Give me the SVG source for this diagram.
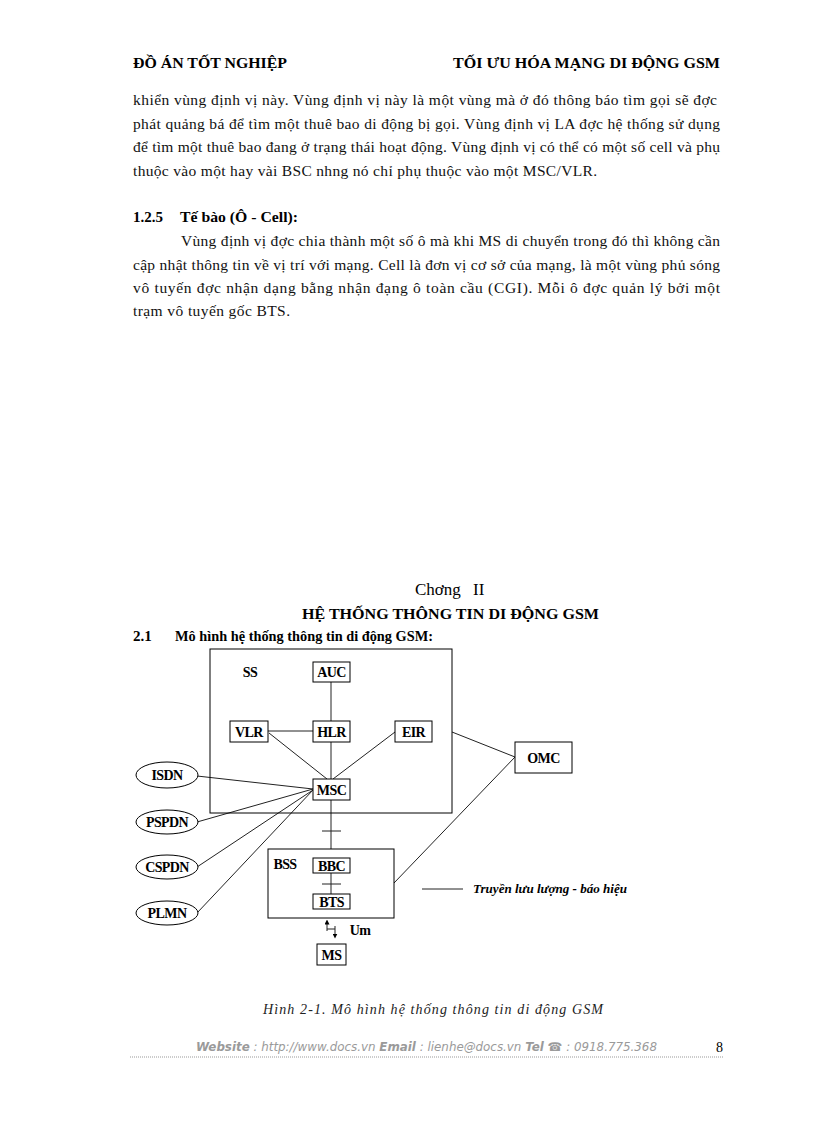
<svg xmlns="http://www.w3.org/2000/svg" width="816" height="1123" viewBox="0 0 816 1123">
<style>
.hd{font-family:"Liberation Serif",serif;font-size:15px;font-weight:bold;fill:#000}
.bd{font-family:"Liberation Serif",serif;font-size:15.5px;fill:#111}
.bb{font-family:"Liberation Serif",serif;font-size:15px;font-weight:bold;fill:#000}
.lb{font-family:"Liberation Serif",serif;font-size:14px;font-weight:bold;fill:#000;text-anchor:middle;letter-spacing:-0.6px}
.bx{fill:#fff;stroke:#000;stroke-width:1}
.ln{stroke:#222;stroke-width:1;fill:none}
.ft{font-family:"DejaVu Sans",sans-serif;font-size:12px;font-style:italic;fill:#9a9a9a}
</style>
<defs>
<marker id="ah" viewBox="0 0 6 6" refX="3" refY="3" markerWidth="5" markerHeight="5" orient="auto"><path d="M0,0 L6,3 L0,6 z" fill="#000"/></marker>
</defs>
<rect width="816" height="1123" fill="#fff"/>
<!-- header -->
<text class="hd" x="133" y="68" textLength="154" lengthAdjust="spacingAndGlyphs">ĐỒ ÁN TỐT NGHIỆP</text>
<text class="hd" x="453" y="68" textLength="267" lengthAdjust="spacingAndGlyphs">TỐI ƯU HÓA MẠNG DI ĐỘNG GSM</text>
<!-- paragraph 1 -->
<text class="bd" x="133" y="105" textLength="584" lengthAdjust="spacing">khiển vùng định vị này. Vùng định vị này là một vùng mà ở đó thông báo tìm gọi sẽ đợc</text>
<text class="bd" x="133" y="129" textLength="587" lengthAdjust="spacing">phát quảng bá để tìm một thuê bao di động bị gọi. Vùng định vị LA đợc  hệ thống sử dụng</text>
<text class="bd" x="133" y="152" textLength="587" lengthAdjust="spacing">để tìm một thuê bao đang ở trạng thái hoạt động. Vùng định vị có thể có một số cell và phụ</text>
<text class="bd" x="133" y="176" textLength="464" lengthAdjust="spacing">thuộc vào một hay vài BSC nhng   nó chỉ phụ thuộc  vào một MSC/VLR.</text>
<!-- section 1.2.5 -->
<text class="bb" x="133" y="222">1.2.5</text>
<text class="bb" x="180" y="222" textLength="118" lengthAdjust="spacingAndGlyphs">Tế bào (Ô - Cell):</text>
<text class="bd" x="181" y="246" textLength="539" lengthAdjust="spacing">Vùng định vị đợc  chia thành một số ô mà khi MS di chuyển trong đó thì không cần</text>
<text class="bd" x="133" y="270" textLength="587" lengthAdjust="spacing">cập nhật thông tin về vị trí với mạng. Cell là đơn vị cơ sở của mạng, là một vùng phủ sóng</text>
<text class="bd" x="133" y="293" textLength="587" lengthAdjust="spacing">vô tuyến đợc  nhận dạng bằng nhận đạng ô toàn cầu (CGI). Mỗi ô đợc  quản lý bởi một</text>
<text class="bd" x="133" y="316" textLength="157" lengthAdjust="spacing">trạm vô tuyến gốc BTS.</text>
<!-- chapter -->
<text x="415" y="595" font-family="Liberation Serif,serif" font-size="17" fill="#000">Chơng<tspan x="473">II</tspan></text>
<text class="bb" x="302" y="619" textLength="297" lengthAdjust="spacingAndGlyphs">HỆ THỐNG THÔNG TIN DI ĐỘNG GSM</text>
<text class="bb" x="133" y="641">2.1</text>
<text class="bb" x="175" y="641" textLength="258" lengthAdjust="spacingAndGlyphs">Mô hình hệ thống thông tin di động GSM:</text>

<!-- connectors -->
<g id="connectors">
<line class="ln" x1="331" y1="682" x2="331" y2="721"/>
<line class="ln" x1="268" y1="731" x2="313" y2="731"/>
<line class="ln" x1="331" y1="742" x2="331" y2="779"/>
<line class="ln" x1="269" y1="733" x2="327" y2="779"/>
<line class="ln" x1="395" y1="732" x2="333" y2="779"/>
<line class="ln" x1="197" y1="776" x2="313" y2="789"/>
<line class="ln" x1="197" y1="822" x2="313" y2="789"/>
<line class="ln" x1="197" y1="867" x2="313" y2="790"/>
<line class="ln" x1="197" y1="913" x2="313" y2="790"/>
<line class="ln" x1="331" y1="800" x2="331" y2="849"/>
<line class="ln" x1="322" y1="831" x2="341" y2="831"/>
<line class="ln" x1="331" y1="873" x2="331" y2="894"/>
<line class="ln" x1="322" y1="884" x2="341" y2="884"/>
<line class="ln" x1="452" y1="732" x2="515" y2="757"/>
<line class="ln" x1="515" y1="757" x2="394" y2="883"/>
<line class="ln" x1="327" y1="931" x2="327" y2="922" marker-end="url(#ah)"/>
<line class="ln" x1="327" y1="929" x2="335" y2="929"/>
<line class="ln" x1="335" y1="926" x2="335" y2="936" marker-end="url(#ah)"/>
</g>

<!-- SS container -->
<g id="SS">
<rect x="210" y="649" width="242" height="164" fill="none" stroke="#000" stroke-width="1"/>
<text class="lb" x="250" y="677">SS</text>
</g>
<g id="BSS">
<rect x="268" y="849" width="126" height="69" fill="none" stroke="#000" stroke-width="1"/>
<text class="lb" x="285" y="869">BSS</text>
</g>
<g id="AUC"><rect class="bx" x="313" y="662" width="37" height="20"/><text class="lb" x="331.5" y="677">AUC</text></g>
<g id="VLR"><rect class="bx" x="230" y="721" width="38" height="21"/><text class="lb" x="249" y="736.5">VLR</text></g>
<g id="HLR"><rect class="bx" x="313" y="721" width="37" height="21"/><text class="lb" x="331.5" y="736.5">HLR</text></g>
<g id="EIR"><rect class="bx" x="395" y="721" width="37" height="21"/><text class="lb" x="413.5" y="736.5">EIR</text></g>
<g id="MSC"><rect class="bx" x="313" y="779" width="37" height="21"/><text class="lb" x="331.5" y="794.5">MSC</text></g>
<g id="OMC"><rect class="bx" x="515" y="742" width="57" height="31"/><text class="lb" x="543.5" y="762.5">OMC</text></g>
<g id="BBC"><rect class="bx" x="313" y="858" width="37" height="15"/><text class="lb" x="331.5" y="870.5">BBC</text></g>
<g id="BTS"><rect class="bx" x="313" y="894" width="37" height="15"/><text class="lb" x="331.5" y="906.5">BTS</text></g>
<g id="MS"><rect class="bx" x="317" y="944" width="29" height="21"/><text class="lb" x="331.5" y="959.5">MS</text></g>
<g id="ISDN"><ellipse class="bx" cx="167" cy="775" rx="31" ry="13"/><text class="lb" x="167" y="780">ISDN</text></g>
<g id="PSPDN"><ellipse class="bx" cx="167" cy="822" rx="31" ry="12"/><text class="lb" x="167" y="827">PSPDN</text></g>
<g id="CSPDN"><ellipse class="bx" cx="167" cy="867" rx="31" ry="12"/><text class="lb" x="167" y="872">CSPDN</text></g>
<g id="PLMN"><ellipse class="bx" cx="167" cy="913" rx="31" ry="12"/><text class="lb" x="167" y="918">PLMN</text></g>
<text class="lb" x="360" y="935">Um</text>
<!-- legend -->
<line class="ln" x1="422" y1="889" x2="463" y2="889"/>
<text x="473" y="893" font-family="Liberation Serif,serif" font-size="13" font-weight="bold" font-style="italic" fill="#000" textLength="154" lengthAdjust="spacingAndGlyphs">Truyền lưu lượng - báo hiệu</text>
<!-- caption -->
<text x="263" y="1014" font-family="Liberation Serif,serif" font-size="14" font-style="italic" fill="#222" textLength="340" lengthAdjust="spacing">Hình 2-1. Mô hình hệ thống thông tin di động GSM</text>
<!-- footer -->
<text class="ft" x="196" y="1051" textLength="461" lengthAdjust="spacingAndGlyphs"><tspan font-weight="bold">Website</tspan> : http://www.docs.vn  <tspan font-weight="bold">Email</tspan>  : lienhe@docs.vn   <tspan font-weight="bold">Tel</tspan> ☎ : 0918.775.368</text>
<text x="716" y="1052" font-family="Liberation Serif,serif" font-size="14" fill="#000">8</text>
<line x1="130" y1="1057" x2="724" y2="1057" stroke="#999" stroke-width="1" stroke-dasharray="1,1"/>
</svg>
